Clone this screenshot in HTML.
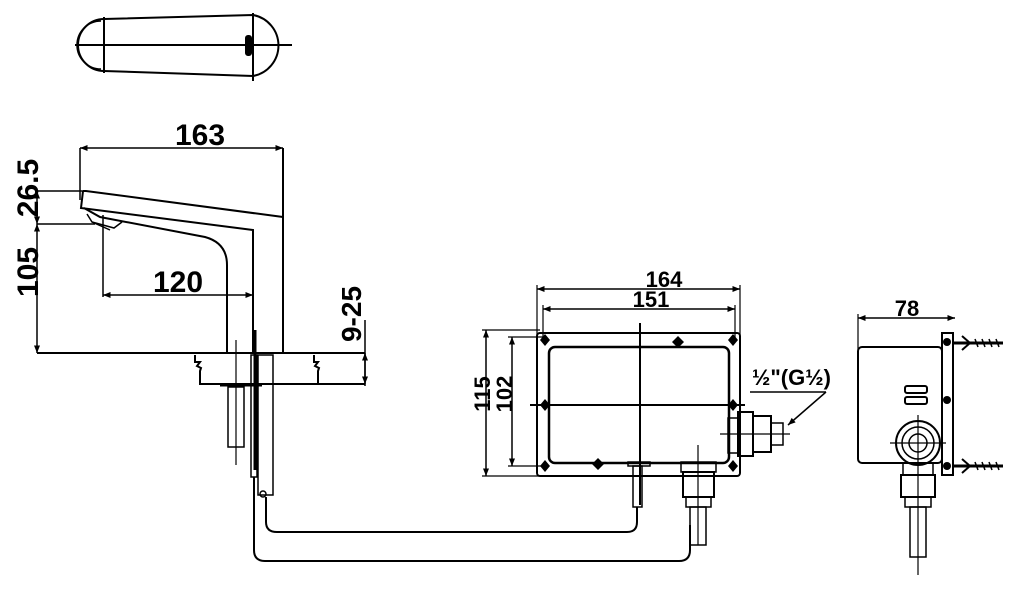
<!DOCTYPE html>
<html><head><meta charset="utf-8"><style>
html,body{margin:0;padding:0;background:#fff;}
svg{display:block;}
text{font-family:"Liberation Sans",sans-serif;font-weight:bold;fill:#000;}
</style></head><body>
<svg width="1018" height="591" viewBox="0 0 1018 591" xmlns="http://www.w3.org/2000/svg">
<defs>
<marker id="a" viewBox="0 0 10 10" refX="10" refY="5" markerWidth="7" markerHeight="5" orient="auto-start-reverse"><path d="M0,1 L10,5 L0,9 z" fill="#000"/></marker>
</defs>
<g fill="none" stroke="#000" stroke-width="2">
<!-- top view -->
<path d="M104,19 A26,26 0 0 0 104,71"/>
<path d="M101,21 A24,24 0 0 0 101,69" stroke-width="1.5"/>
<path d="M104,19 L253,15 A31,31 0 0 1 253,76 L104,71"/>
<line x1="75" y1="45" x2="292" y2="45"/>
<line x1="104" y1="17" x2="104" y2="73"/>
<line x1="253" y1="13" x2="253" y2="81"/>
<rect x="246" y="36" width="5" height="19" rx="2" fill="#000"/>

<!-- side view dims -->
<line x1="80" y1="148" x2="283" y2="148" marker-start="url(#a)" marker-end="url(#a)" stroke-width="1.5"/>
<line x1="80" y1="148" x2="80" y2="200" stroke-width="1.5"/>
<line x1="283" y1="148" x2="283" y2="353"/>
<line x1="37" y1="191" x2="85" y2="191" stroke-width="1.5"/>
<line x1="37" y1="224" x2="95" y2="224" stroke-width="1.5"/>
<line x1="37" y1="191" x2="37" y2="224" marker-start="url(#a)" marker-end="url(#a)" stroke-width="1.5"/>
<line x1="37" y1="224" x2="37" y2="353" marker-start="url(#a)" marker-end="url(#a)" stroke-width="1.5"/>
<line x1="37" y1="353" x2="365" y2="353"/>
<line x1="103" y1="215" x2="103" y2="297" stroke-width="1.5"/>
<line x1="103" y1="295" x2="253" y2="295" marker-start="url(#a)" marker-end="url(#a)" stroke-width="1.5"/>
<line x1="365" y1="320" x2="365" y2="386" stroke-width="1.5"/>
<line x1="365" y1="353" x2="365" y2="384" marker-start="url(#a)" marker-end="url(#a)" stroke-width="1.5"/>

<!-- spout -->
<path d="M83,191 L86,191 L283,217"/>
<path d="M83,191 L81,208 L253,230 L253,353"/>
<path d="M84,208 L100,217 L205,237 Q227,243 227,265 L227,353"/>
<path d="M87,214 L92,222 L114,228 L122,222" stroke-width="1.5"/>
<path d="M92,222 L110,230" stroke-width="1.5"/>

<!-- base -->
<path d="M195,355 L195,362 L200,362 L197,366 L201,368 L200,371 L200,384 L365,384"/>
<path d="M314,355 L314,362 L318,362 L315,366 L319,368 L318,371 L318,384"/>
<rect x="228" y="387" width="16" height="60" stroke-width="1.5"/>
<line x1="236" y1="340" x2="236" y2="465" stroke-width="1.2"/>
<line x1="220" y1="385" x2="262" y2="385" stroke-width="3"/>
<rect x="251" y="355" width="6" height="122" stroke-width="1.5"/>
<line x1="255" y1="330" x2="255" y2="470" stroke-width="3"/>
<rect x="258" y="355" width="15" height="140" stroke-width="1.5"/>
<circle cx="263" cy="494" r="3" stroke-width="1.5"/>
<path d="M254,477 L254,550 Q254,561 265,561 L679,561 Q690,561 690,550 L690,525"/>
<path d="M266,497 L266,522 Q266,532 277,532 L627,532 Q637,532 637,522 L637,507"/>

<!-- box front -->
<line x1="537" y1="289" x2="740" y2="289" marker-start="url(#a)" marker-end="url(#a)" stroke-width="1.5"/>
<line x1="543" y1="309" x2="735" y2="309" marker-start="url(#a)" marker-end="url(#a)" stroke-width="1.5"/>
<line x1="537" y1="285" x2="537" y2="335" stroke-width="1.2"/>
<line x1="740" y1="285" x2="740" y2="335" stroke-width="1.2"/>
<line x1="543" y1="305" x2="543" y2="340" stroke-width="1.2"/>
<line x1="735" y1="305" x2="735" y2="340" stroke-width="1.2"/>
<line x1="486" y1="330" x2="486" y2="476" marker-start="url(#a)" marker-end="url(#a)" stroke-width="1.5"/>
<line x1="512" y1="337" x2="512" y2="466" marker-start="url(#a)" marker-end="url(#a)" stroke-width="1.5"/>
<line x1="482" y1="330" x2="540" y2="330" stroke-width="1.2"/>
<line x1="482" y1="476" x2="540" y2="476" stroke-width="1.2"/>
<line x1="508" y1="337" x2="545" y2="337" stroke-width="1.2"/>
<line x1="508" y1="466" x2="545" y2="466" stroke-width="1.2"/>
<rect x="537" y="333" width="203" height="143" rx="3"/>
<rect x="549" y="347" width="180" height="116" rx="6" stroke-width="2.5"/>
<line x1="530" y1="405" x2="745" y2="405"/>
<line x1="640" y1="323" x2="640" y2="505"/>
<rect x="628" y="462" width="22" height="4" stroke-width="1.5"/>
<rect x="633" y="466" width="9" height="41" stroke-width="1.5"/>
<rect x="681" y="462" width="35" height="10" stroke-width="1.5"/>
<rect x="683" y="472" width="31" height="25" stroke-width="2"/>
<rect x="686" y="497" width="25" height="10" stroke-width="1.5"/>
<rect x="690" y="507" width="16" height="38" stroke-width="1.5"/>
<line x1="698" y1="445" x2="698" y2="545" stroke-width="1.2"/>
<rect x="728" y="418" width="10" height="35" stroke-width="1.5"/>
<rect x="738" y="412" width="15" height="44" stroke-width="2"/>
<rect x="753" y="416" width="18" height="36" stroke-width="2"/>
<rect x="771" y="423" width="12" height="22" stroke-width="1.5"/>
<line x1="720" y1="434" x2="790" y2="434" stroke-width="1.2"/>
<line x1="750" y1="392" x2="826" y2="392" stroke-width="1.5"/>
<line x1="826" y1="392" x2="788" y2="425" marker-end="url(#a)" stroke-width="1.5"/>

<!-- side box -->
<line x1="858" y1="318" x2="955" y2="318" marker-start="url(#a)" marker-end="url(#a)" stroke-width="1.5"/>
<line x1="858" y1="314" x2="858" y2="350" stroke-width="1.2"/>
<rect x="858" y="347" width="84" height="116" rx="4"/>
<rect x="942" y="333" width="11" height="142"/>
<rect x="905" y="386" width="22" height="7" rx="2" stroke-width="2"/>
<rect x="905" y="397" width="22" height="7" rx="2" stroke-width="2"/>
<circle cx="918" cy="443" r="22"/>
<circle cx="918" cy="443" r="16" stroke-width="1.5"/>
<circle cx="918" cy="443" r="9" stroke-width="1.5"/>
<line x1="890" y1="443" x2="946" y2="443" stroke-width="1.2"/>
<line x1="918" y1="415" x2="918" y2="575" stroke-width="1.2"/>
<rect x="903" y="463" width="30" height="12" stroke-width="1.5"/>
<rect x="901" y="475" width="34" height="22" stroke-width="2"/>
<rect x="905" y="497" width="26" height="10" stroke-width="1.5"/>
<rect x="910" y="507" width="16" height="50" stroke-width="1.5"/>
<line x1="953" y1="343" x2="1003" y2="343" stroke-width="3"/>
<line x1="953" y1="466" x2="1003" y2="466" stroke-width="3"/>
<path d="M962,336 L970,343 L962,350" stroke-width="2"/>
<path d="M962,459 L970,466 L962,473" stroke-width="2"/>
</g>
<g stroke="#000" stroke-width="1.5">
<path d="M975,339 l3,8 M982,339 l3,8 M989,339 l3,8 M996,339 l3,8"/>
<path d="M975,462 l3,8 M982,462 l3,8 M989,462 l3,8 M996,462 l3,8"/>
</g>
<!-- diamonds -->
<g fill="#000">
<path d="M545,334 l5,6 -5,6 -5,-6z M733,334 l5,6 -5,6 -5,-6z M545,460 l5,6 -5,6 -5,-6z M733,460 l5,6 -5,6 -5,-6z"/>
<path d="M678,336 l6,6 -6,6 -6,-6z M598,458 l6,6 -6,6 -6,-6z"/>
<path d="M545,399 l5,6 -5,6 -5,-6z M733,399 l5,6 -5,6 -5,-6z"/>
<circle cx="947" cy="342" r="4"/><circle cx="947" cy="400" r="4"/><circle cx="947" cy="466" r="4"/>
</g>
<!-- labels -->
<text x="200" y="145" font-size="30" text-anchor="middle">163</text>
<text x="178" y="292" font-size="30" text-anchor="middle">120</text>
<text transform="translate(38,188) rotate(-90)" font-size="30" text-anchor="middle">26.5</text>
<text transform="translate(38,272) rotate(-90)" font-size="30" text-anchor="middle">105</text>
<text transform="translate(361,314) rotate(-90)" font-size="28" text-anchor="middle">9-25</text>
<text x="664" y="287" font-size="22" text-anchor="middle">164</text>
<text x="651" y="307" font-size="22" text-anchor="middle">151</text>
<text transform="translate(490,394) rotate(-90)" font-size="22" text-anchor="middle">115</text>
<text transform="translate(512,394) rotate(-90)" font-size="22" text-anchor="middle">102</text>
<text x="907" y="316" font-size="22" text-anchor="middle">78</text>
<text x="752" y="385" font-size="22">½"(G½)</text>
</svg>
</body></html>
